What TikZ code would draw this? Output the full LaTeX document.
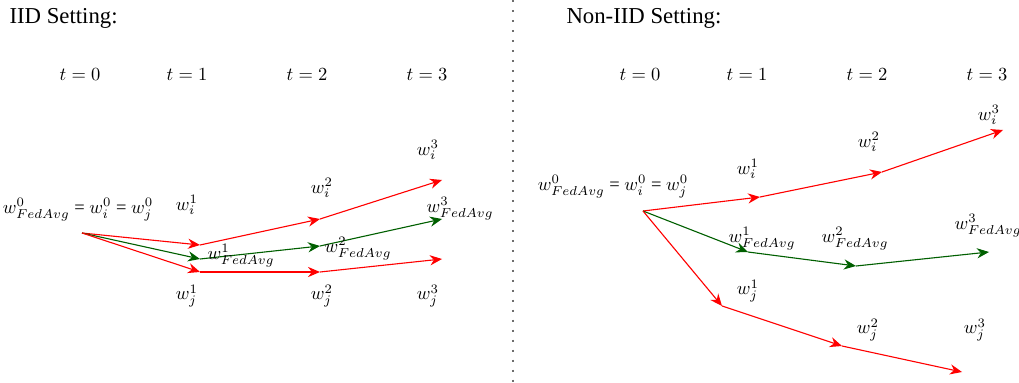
\documentclass[tikz,border=0pt]{standalone}
\usepackage{fontspec}
\setmainfont{Liberation Serif}
\usetikzlibrary{arrows.meta}

\definecolor{avggreen}{RGB}{0,95,0}
\definecolor{sepgray}{RGB}{110,110,110}

\tikzset{
  heading/.style={anchor=west, font=\fontsize{12.3}{14}\selectfont},
  localstep/.style={draw=red, line width=0.6pt, -{Stealth[length=6.5pt,width=5.5pt]}},
  avgstep/.style={draw=avggreen, line width=0.6pt, -{Stealth[length=6.5pt,width=5.5pt]}},
}

\begin{document}
\begin{tikzpicture}[x=0.019cm, y=-0.019cm]
    \useasboundingbox (0,0) rectangle (1019,383);

    \draw[sepgray, line width=1.2pt, dash pattern=on 1.2pt off 4.2pt] (513,0) -- (513,383);

    \node[heading] (iidtitle) at (3,18) {IID Setting:};
    \node[heading] (noniidtitle) at (560,18) {Non-IID Setting:};

    \foreach \t/\x in {0/80,1/187,2/307,3/427}
        \node (a-t\t) at (\x,75) {$t=\t$};
    \foreach \t/\x in {0/640,1/747,2/867,3/987}
        \node (b-t\t) at (\x,75) {$t=\t$};

    % IID
    \coordinate (a0) at (82,233);
    \coordinate (ai1) at (200,245);
    \coordinate (ai2) at (320,219);
    \coordinate (ai3) at (442,180);
    \coordinate (ag1) at (200,259);
    \coordinate (ag2) at (320,246);
    \coordinate (ag3) at (442,219);
    \coordinate (aj1) at (200,272);
    \coordinate (aj2) at (320,272);
    \coordinate (aj3) at (442,259);

    \draw[localstep] (a0) -- (ai1);
    \draw[localstep] (ai1) -- (ai2);
    \draw[localstep] (ai2) -- (ai3);
    \draw[avgstep] (a0) -- (ag1);
    \draw[avgstep] (ag1) -- (ag2);
    \draw[avgstep] (ag2) -- (ag3);
    \draw[localstep] (a0) -- (aj1);
    \draw[localstep] (aj1) -- (aj2);
    \draw[localstep] (aj2) -- (aj3);

    \node (a-w0) at (78,210) {$w^0_{FedAvg}$ = $w^0_i$ = $w^0_j$};
    \node (a-wi1) at (187,205) {$w^1_i$};
    \node (a-wi2) at (322,188) {$w^2_i$};
    \node (a-wi3) at (428,150) {$w^3_i$};
    \node (a-wg1) at (241,256) {$w^1_{FedAvg}$};
    \node (a-wg2) at (358,249) {$w^2_{FedAvg}$};
    \node (a-wg3) at (460,209) {$w^3_{FedAvg}$};
    \node (a-wj1) at (187,296) {$w^1_j$};
    \node (a-wj2) at (322,296) {$w^2_j$};
    \node (a-wj3) at (428,296) {$w^3_j$};

    % Non-IID
    \coordinate (b0) at (643,211);
    \coordinate (bi1) at (760,197);
    \coordinate (bi2) at (882,172);
    \coordinate (bi3) at (1003,130);
    \coordinate (bg1) at (748,252);
    \coordinate (bg2) at (856,266);
    \coordinate (bg3) at (989,252);
    \coordinate (bj1) at (722,306);
    \coordinate (bj2) at (842,346);
    \coordinate (bj3) at (962,372);

    \draw[localstep] (b0) -- (bi1);
    \draw[localstep] (bi1) -- (bi2);
    \draw[localstep] (bi2) -- (bi3);
    \draw[avgstep] (b0) -- (bg1);
    \draw[avgstep] (bg1) -- (bg2);
    \draw[avgstep] (bg2) -- (bg3);
    \draw[localstep] (b0) -- (bj1);
    \draw[localstep] (bj1) -- (bj2);
    \draw[localstep] (bj2) -- (bj3);

    \node (b-w0) at (613,187) {$w^0_{FedAvg}$ = $w^0_i$ = $w^0_j$};
    \node (b-wi1) at (748,169) {$w^1_i$};
    \node (b-wi2) at (869,142) {$w^2_i$};
    \node (b-wi3) at (989,115) {$w^3_i$};
    \node (b-wg1) at (762,239) {$w^1_{FedAvg}$};
    \node (b-wg2) at (855,239) {$w^2_{FedAvg}$};
    \node (b-wg3) at (988,226) {$w^3_{FedAvg}$};
    \node (b-wj1) at (748,291) {$w^1_j$};
    \node (b-wj2) at (868,330) {$w^2_j$};
    \node (b-wj3) at (975,330) {$w^3_j$};
\end{tikzpicture}
\end{document}
